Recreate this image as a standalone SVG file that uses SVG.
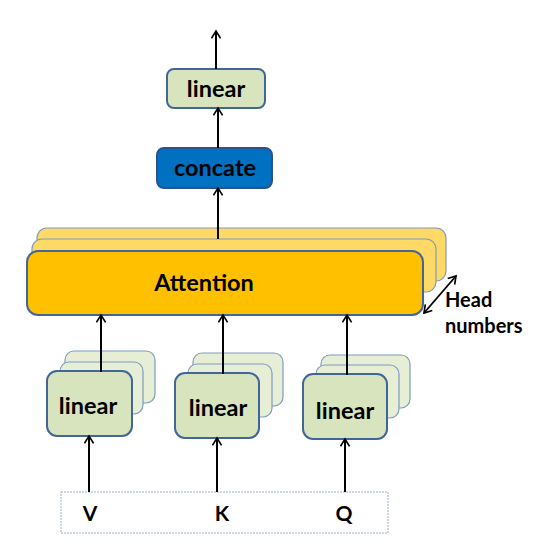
<svg xmlns="http://www.w3.org/2000/svg" width="540" height="550" viewBox="0 0 540 550">
<defs>
<marker id="ah" viewBox="0 0 12 12" refX="10" refY="6" markerWidth="11" markerHeight="11" markerUnits="userSpaceOnUse" orient="auto-start-reverse">
<path d="M2,1 L10,6 L2,11" fill="none" stroke="#000" stroke-width="1.8"/>
</marker>
<style>
.t{font-family:Lato,"Open Sans","Liberation Sans",sans-serif;font-weight:bold;fill:#000;text-anchor:middle}
.lin{fill:#D7E4BD;stroke:#41679A;stroke-width:2}
.linb{fill:#E6EED5;stroke:#7F9CC0;stroke-width:1.2}
.att{fill:#FFC000;stroke:#41679A;stroke-width:2}
.attb{fill:#FFD966;stroke:#7F9CC0;stroke-width:1.2}
.c{stroke:#000;stroke-width:2;fill:none;marker-end:url(#ah)}
</style>
</defs>
<rect width="540" height="550" fill="#fff"/>
<g id="inputs">
<rect x="61" y="492" width="327" height="41" fill="none" stroke="#9DAFC8" stroke-width="1" stroke-dasharray="2,1"/>
<text class="t" x="90" y="521" font-size="21">V</text>
<text class="t" x="222" y="521" font-size="21">K</text>
<text class="t" x="344" y="521" font-size="21">Q</text>
</g>
<g id="linearV">
<rect class="linb" x="65" y="351" width="90" height="52" rx="9"/>
<rect class="linb" x="60" y="362" width="83" height="52" rx="9"/>
<rect class="lin" x="47" y="371" width="85" height="65" rx="10"/>
<text class="t" x="88" y="414" font-size="23.5">linear</text>
</g>
<g id="linearK">
<rect class="linb" x="193" y="353" width="90" height="53" rx="9"/>
<rect class="linb" x="188" y="364" width="84" height="53" rx="9"/>
<rect class="lin" x="175" y="373" width="84" height="65" rx="10"/>
<text class="t" x="218" y="416" font-size="23.5">linear</text>
</g>
<g id="linearQ">
<rect class="linb" x="321" y="355" width="89" height="53" rx="9"/>
<rect class="linb" x="316" y="365" width="83" height="53" rx="9"/>
<rect class="lin" x="303" y="374" width="84" height="65" rx="10"/>
<text class="t" x="345" y="419" font-size="23.5">linear</text>
</g>
<g id="attention">
<rect class="attb" x="37" y="228" width="409" height="53" rx="10"/>
<rect class="attb" x="32" y="239" width="404" height="53" rx="10"/>
<rect class="att" x="27" y="251" width="396" height="64" rx="11"/>
<text class="t" x="204" y="291" font-size="23.5">Attention</text>
</g>
<g id="heads">
<text class="t" x="445" y="307" font-size="20" text-anchor="start" style="text-anchor:start">Head</text>
<text class="t" x="445" y="333" font-size="20" style="text-anchor:start">numbers</text>
</g>
<g id="concate">
<rect x="157" y="148" width="115" height="40" rx="7" fill="#0070C0" stroke="#2F528F" stroke-width="2"/>
<text class="t" x="215" y="176" font-size="23.5">concate</text>
</g>
<g id="linearOut">
<rect class="lin" x="167" y="69" width="98" height="39" rx="7"/>
<text class="t" x="216" y="97" font-size="23.5">linear</text>
</g>
<g id="connectors">
<line class="c" x1="89" y1="492" x2="89" y2="436"/>
<line class="c" x1="217" y1="492" x2="217" y2="438"/>
<line class="c" x1="345" y1="492" x2="345" y2="439"/>
<line class="c" x1="101" y1="372" x2="101" y2="315"/>
<line class="c" x1="223" y1="374" x2="223" y2="315"/>
<line class="c" x1="347" y1="375" x2="347" y2="315"/>
<line class="c" x1="218" y1="239" x2="218" y2="188"/>
<line class="c" x1="218" y1="148" x2="218" y2="108"/>
<line class="c" x1="216" y1="69" x2="216" y2="31"/>
<line stroke="#000" stroke-width="1.8" x1="424" y1="313" x2="456" y2="276" marker-start="url(#ah)" marker-end="url(#ah)"/>
</g>
</svg>
